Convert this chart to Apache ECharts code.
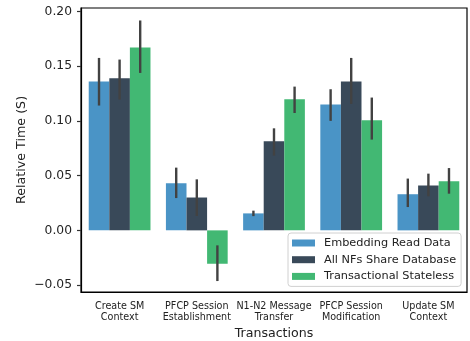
<!DOCTYPE html>
<html><head><meta charset="utf-8">
<script src="https://cdn.jsdelivr.net/npm/echarts@6/dist/echarts.min.js"></script>
<style>html,body{margin:0;padding:0;background:#fff}#c{width:470px;height:341px}</style>
</head><body><div id="c"></div>
<script>
const categories = ["Create SM\nContext","PFCP Session\nEstablishment","N1-N2 Message\nTransfer","PFCP Session\nModification","Update SM\nContext"];
const seriesNames = ["Embedding Read Data","All NFs Share Database","Transactional Stateless"];
const embedding = [0.136, 0.043, 0.0155, 0.115, 0.033];
const embeddingLo = [0.114, 0.0295, 0.013, 0.100, 0.0213];
const embeddingHi = [0.1575, 0.0573, 0.018, 0.1289, 0.0473];
const shared = [0.139, 0.030, 0.0813, 0.136, 0.041];
const sharedLo = [0.1195, 0.0131, 0.0683, 0.1155, 0.0311];
const sharedHi = [0.156, 0.0466, 0.0932, 0.1575, 0.0518];
const stateless = [0.167, -0.0305, 0.1197, 0.1006, 0.0448];
const statelessLo = [0.1438, -0.0463, 0.1072, 0.0829, 0.0335];
const statelessHi = [0.1917, -0.0137, 0.1313, 0.1213, 0.0569];
const yTicks = [-0.05, 0, 0.05, 0.10, 0.15, 0.20];
const colors = ["#4a94c6", "#394959", "#42b873"];

const values = [embedding, shared, stateless];
const los = [embeddingLo, sharedLo, statelessLo];
const his = [embeddingHi, sharedHi, statelessHi];

const chart = echarts.init(document.getElementById('c'), null, {renderer:'canvas'});
const font = 'DejaVu Sans';
const series = [];
values.forEach((v, i) => {
  series.push({
    name: seriesNames[i], type: 'bar', data: v,
    itemStyle: {color: colors[i]},
    barGap: '0%', barCategoryGap: '20%', animation: false
  });
});
values.forEach((v, i) => {
  series.push({
    type: 'custom', silent: true, animation: false, z: 10,
    data: categories.map((c, j) => [j, los[i][j], his[i][j]]),
    renderItem: function (params, api) {
      const band = api.size([1, 0])[0];
      const bw = band * 0.8 / 3;
      const p1 = api.coord([api.value(0), api.value(1)]);
      const p2 = api.coord([api.value(0), api.value(2)]);
      const x = p1[0] + (i - 1) * bw;
      return {type: 'line', shape: {x1: x, y1: p1[1], x2: x, y2: p2[1]},
        style: {stroke: '#424242', lineWidth: 2.4}};
    }
  });
});

chart.setOption({
  animation: false,
  textStyle: {fontFamily: font},
  grid: {left: 81, right: 3, top: 8, bottom: 49, show: true, borderColor: '#000', borderWidth: 1.2,
    containLabel: false, outerBoundsMode: 'none'},
  legend: {
    data: seriesNames, orient: 'vertical', left: 288, top: 233,
    padding: [3.5, 5, 3.5, 4], itemGap: 3.7, itemWidth: 23, itemHeight: 7,
    icon: 'rect', backgroundColor: '#fff', borderColor: '#d0d0d0', borderWidth: 1, borderRadius: 3,
    textStyle: {fontFamily: font, fontSize: 11.3, color: '#222', lineHeight: 13, padding: [0, 0, 0, 4]}
  },
  xAxis: {
    type: 'category', data: categories,
    name: 'Transactions', nameLocation: 'middle', nameGap: 35, nameMoveOverlap: false,
    nameTextStyle: {fontFamily: font, fontSize: 12.6, color: '#222'},
    axisLine: {onZero: false, lineStyle: {color: '#000', width: 1.2}},
    axisTick: {alignWithLabel: true, length: 4, lineStyle: {color: '#333', width: 1.2}},
    axisLabel: {fontFamily: font, fontSize: 9.6, color: '#222', lineHeight: 11, margin: 9, interval: 0}
  },
  yAxis: {
    type: 'value', min: -0.0563, max: 0.2031,
    name: 'Relative Time (S)', nameLocation: 'middle', nameGap: 53, nameMoveOverlap: false,
    nameTextStyle: {fontFamily: font, fontSize: 12.7, color: '#222'},
    splitLine: {show: false},
    axisLine: {show: true, lineStyle: {color: '#000', width: 1.2}},
    axisTick: {show: true, length: 4, customValues: yTicks, lineStyle: {color: '#333', width: 1.2}},
    axisLabel: {customValues: yTicks, fontFamily: font, fontSize: 12.3, color: '#222', margin: 9,
      formatter: v => (v < 0 ? '\u2212' : '') + Math.abs(v).toFixed(2)}
  },
  series: series
});
</script></body></html>
